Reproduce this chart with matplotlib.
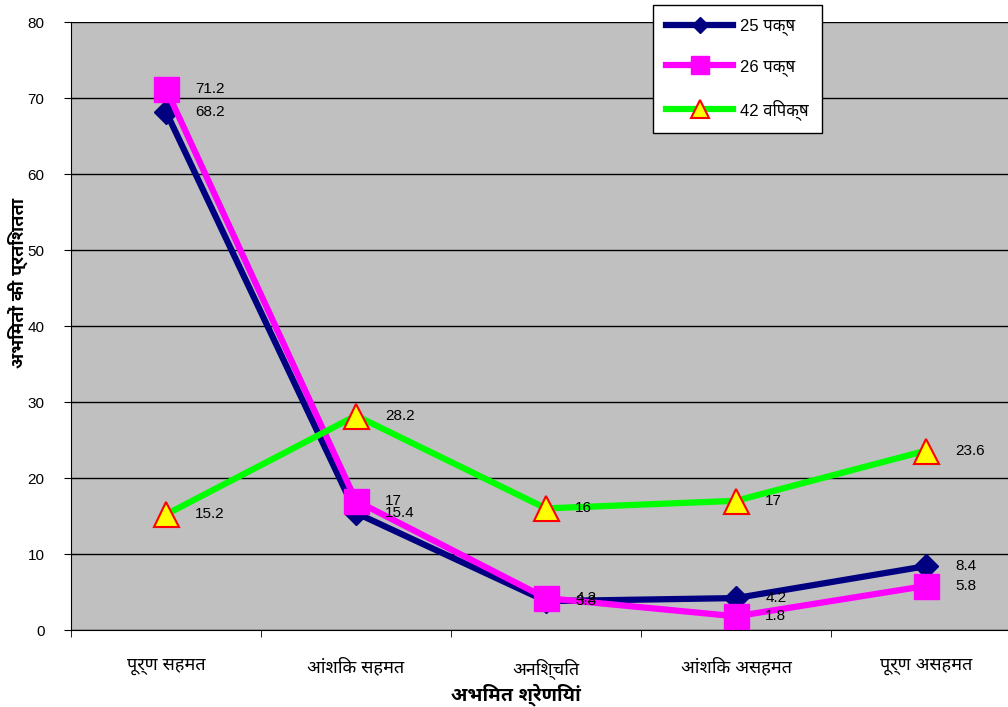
import matplotlib
matplotlib.use('Agg')
import matplotlib.pyplot as plt

plt.rcParams['font.family'] = ['Liberation Sans', 'Noto Sans Devanagari UI']

categories = ["पूर्ण सहमत", "आंशिक सहमत", "अनिश्चित", "आंशिक असहमत", "पूर्ण असहमत"]
series_names = ["25 पक्ष", "26 पक्ष", "42 विपक्ष"]
paksh_25 = [68.2, 15.4, 3.8, 4.2, 8.4]
paksh_26 = [71.2, 17, 4.2, 1.8, 5.8]
vipaksh_42 = [15.2, 28.2, 16, 17, 23.6]
y_ticks = [0, 10, 20, 30, 40, 50, 60, 70, 80]

STYLES = [
    dict(color="#000080", marker="D", markersize=12, mfc="#000080", mec="#000080"),
    dict(color="#FF00FF", marker="s", markersize=18, mfc="#FF00FF", mec="#FF00FF"),
    dict(color="#00FF00", marker="^", markersize=18, mfc="#FFFF00", mec="#FF0000", mew=1.5),
]

fig = plt.figure(figsize=(10.08, 7.07), dpi=100)
# plot area runs past the right edge of the picture, like the original
ax = fig.add_axes([71 / 1008, 1 - 630 / 707, 950 / 1008, 608 / 707])
ax.set_facecolor("#C0C0C0")

x = list(range(len(categories)))
for vals, name, st in zip([paksh_25, paksh_26, vipaksh_42], series_names, STYLES):
    ax.plot(x, vals, linewidth=4.5, label=name, clip_on=False, **st)
    for xi, v in zip(x, vals):
        ax.annotate(f"{v:g}", (xi, v), xytext=(21, 0), textcoords="offset points",
                    ha="left", va="center", fontsize=11, color="black")

ax.set_xlim(-0.5, 4.5)
ax.set_ylim(0, 80)
ax.set_yticks(y_ticks)
ax.tick_params(axis="y", direction="out", length=5, labelsize=11, pad=14)
ax.set_xticks(x)
ax.set_xticklabels(categories, fontsize=13)
ax.tick_params(axis="x", length=0, pad=20)
ax.set_xticks([i - 0.5 for i in range(len(categories) + 1)], minor=True)
ax.tick_params(axis="x", which="minor", direction="out", length=5)
ax.yaxis.grid(True, color="#000000", linewidth=1)
ax.set_axisbelow(True)
for side in ["top", "right"]:
    ax.spines[side].set_visible(False)
for side in ["left", "bottom"]:
    ax.spines[side].set_color("black")

ax.set_ylabel("अभिमतों की प्रतिशतता", fontsize=13, fontweight="bold")
ax.yaxis.set_label_coords(-0.045, (630 - 283) / 608)
ax.set_xlabel("अभिमत श्रेणियां", fontsize=14, fontweight="bold")
ax.xaxis.set_label_coords((516 - 71) / 950, -0.087)

leg = fig.legend(loc="upper left", bbox_to_anchor=(653 / 1008, 1 - 5 / 707),
                 fontsize=12, frameon=True, fancybox=False, framealpha=1,
                 edgecolor="black", handlelength=4.0, labelspacing=1.4,
                 borderpad=0.8, handletextpad=0.4, borderaxespad=0,
                 markerscale=0.7)
leg.get_frame().set_linewidth(1)

fig.savefig("out.png", dpi=100)
